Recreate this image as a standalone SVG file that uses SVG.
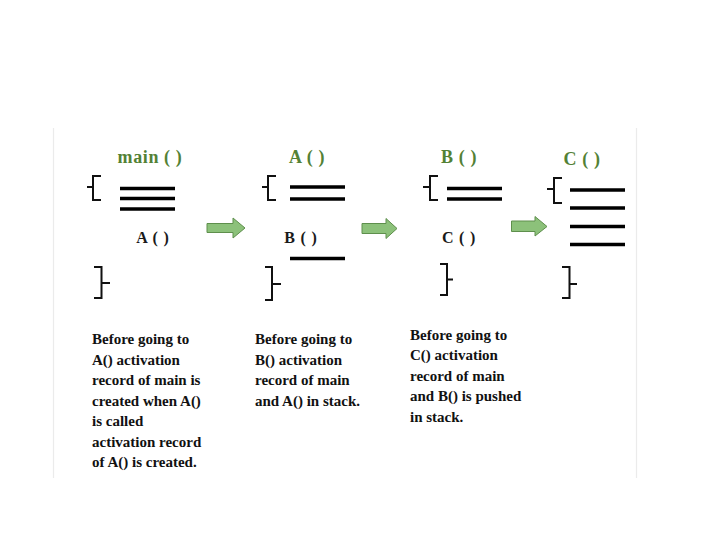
<svg xmlns="http://www.w3.org/2000/svg" width="720" height="540" viewBox="0 0 720 540">
<style>
.hdr{font-family:"Liberation Serif","Times New Roman",serif;font-weight:bold;font-size:18px;fill:#538135;text-anchor:middle;letter-spacing:0.6px}
.lbl{font-family:"Liberation Serif","Times New Roman",serif;font-weight:bold;font-size:16px;fill:#1a1a1a;text-anchor:middle;letter-spacing:0.8px}
.note{font-family:"Liberation Serif","Times New Roman",serif;font-weight:bold;font-size:15px;fill:#111}
.rec{stroke:#000;stroke-width:3.6;fill:none}
.brace{stroke:#111;stroke-width:2;fill:none}
.arrow{fill:#8cc17a;stroke:#5e8f4c;stroke-width:1}
.frame{stroke:#ebebeb;stroke-width:1.2}
</style>
<rect width="720" height="540" fill="#fff"/>
<line class="frame" x1="53.5" y1="128" x2="53.5" y2="478"/>
<line class="frame" x1="636.5" y1="128" x2="636.5" y2="478"/>

<g id="panel-main">
<text class="hdr" x="150" y="163">main ( )</text>
<path class="brace" d="M101 176 H93 V200 H101 M93 187 H87"/>
<line class="rec" x1="120" y1="188.5" x2="175" y2="188.5"/>
<line class="rec" x1="120" y1="198.5" x2="175" y2="198.5"/>
<line class="rec" x1="120" y1="209" x2="175" y2="209"/>
<text class="lbl" x="153" y="243">A ( )</text>
<path class="brace" d="M94 267 H101.5 V298 H94 M101.5 283 H110"/>
<text class="note" x="92"><tspan x="92" y="344">Before going to</tspan><tspan x="92" y="364.5">A() activation</tspan><tspan x="92" y="385">record of main is</tspan><tspan x="92" y="405.5">created when A()</tspan><tspan x="92" y="426">is called</tspan><tspan x="92" y="446.5">activation record</tspan><tspan x="92" y="467">of A() is created.</tspan></text>
</g>

<g id="panel-A">
<text class="hdr" x="307" y="163">A ( )</text>
<path class="brace" d="M276 176 H268 V200 H276 M268 187 H262"/>
<line class="rec" x1="290" y1="187" x2="345" y2="187"/>
<line class="rec" x1="290" y1="199" x2="345" y2="199"/>
<text class="lbl" x="301" y="243">B ( )</text>
<line class="rec" x1="290" y1="258.5" x2="345" y2="258.5"/>
<path class="brace" d="M265 267 H272 V300 H265 M272 284 H281"/>
<text class="note" x="255"><tspan x="255" y="344">Before going to</tspan><tspan x="255" y="364.5">B() activation</tspan><tspan x="255" y="385">record of main</tspan><tspan x="255" y="405.5">and A() in stack.</tspan></text>
</g>

<g id="panel-B">
<text class="hdr" x="459" y="163">B ( )</text>
<path class="brace" d="M438 176 H430 V200 H438 M430 187 H423"/>
<line class="rec" x1="447" y1="188.5" x2="502" y2="188.5"/>
<line class="rec" x1="447" y1="199" x2="502" y2="199"/>
<text class="lbl" x="459" y="243">C ( )</text>
<path class="brace" d="M440 264 H447 V295 H440 M447 279.5 H453"/>
<text class="note" x="410"><tspan x="410" y="339.5">Before going to</tspan><tspan x="410" y="360">C() activation</tspan><tspan x="410" y="380.5">record of main</tspan><tspan x="410" y="401">and B() is pushed</tspan><tspan x="410" y="421.5">in stack.</tspan></text>
</g>

<g id="panel-C">
<text class="hdr" x="582" y="165">C ( )</text>
<path class="brace" d="M562 178 H554 V203 H562 M554 189 H547"/>
<line class="rec" x1="570" y1="190" x2="625" y2="190"/>
<line class="rec" x1="570" y1="208" x2="625" y2="208"/>
<line class="rec" x1="570" y1="226.5" x2="625" y2="226.5"/>
<line class="rec" x1="570" y1="244.5" x2="625" y2="244.5"/>
<path class="brace" d="M562 267 H569.5 V298 H562 M569.5 284 H577"/>
</g>

<g id="connectors">
<path class="arrow" d="M207 223.5 H233 V218 L245 228 L233 238 V232.5 H207 Z"/>
<path class="arrow" d="M362 223.5 H386 V218.5 L397 228.5 L386 238.5 V233.5 H362 Z"/>
<path class="arrow" d="M511.5 221 H535 V216.5 L547 226.5 L535 236 V231.5 H511.5 Z"/>
</g>
</svg>
